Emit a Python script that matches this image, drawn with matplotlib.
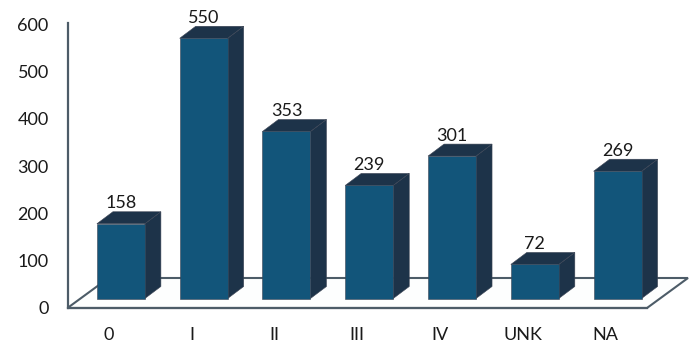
import matplotlib
matplotlib.use('Agg')
import matplotlib.pyplot as plt
from matplotlib.patches import Polygon

# counts per stage
stages = ['0', 'I', 'II', 'III', 'IV', 'UNK', 'NA']
counts = [158, 550, 353, 239, 301, 72, 269]
y_ticks = [0, 100, 200, 300, 400, 500, 600]

# colours
front_col = '#12557a'
dark_col = '#1d3349'
edge_col = '#3d4555'
axis_col = '#4d5c68'

plt.rcParams['font.family'] = ['Lato', 'DejaVu Sans']
plt.rcParams['font.size'] = 13

W, H = 693, 344
fig = plt.figure(figsize=(W / 100, H / 100), dpi=100)

# axes box in pixels, the y scale is 0.473 px per unit and one category is about 82.7 px
left, right, bottom, top = 67.5, 647, 308, 22.7
ax = fig.add_axes([left / W, 1 - bottom / H, (right - left) / W, (bottom - top) / H])
ax.set_xlim(-0.5, 6.5)
ax.set_ylim(0, 603)

# fake 3d offsets in data units
px_x = 7 / (right - left)
px_y = 603 / (bottom - top)
floor_dx, floor_dy = 41 * px_x, 30 * px_y
bar_dx, bar_dy = 12 * px_x, 9.5 * px_y
depth_dx, depth_dy = 16 * px_x, 12 * px_y
bar_w = 48 * px_x

# floor of the chart
xa, xb = -0.5, 6.5
ax.add_patch(Polygon([(xa, 0), (xb, 0), (xb + floor_dx, floor_dy), (xa + floor_dx, floor_dy)],
                     closed=True, facecolor='#fdfefe', edgecolor=axis_col, lw=1.5,
                     clip_on=False, zorder=1, joinstyle='miter'))

for i, v in enumerate(counts):
    x0 = i + bar_dx - bar_w / 2
    x1 = x0 + bar_w
    y0 = bar_dy
    y1 = bar_dy + v
    # side and top faces
    ax.add_patch(Polygon([(x1, y0), (x1 + depth_dx, y0 + depth_dy), (x1 + depth_dx, y1 + depth_dy), (x1, y1)],
                         closed=True, facecolor=dark_col, edgecolor=edge_col, lw=0.4, clip_on=False, zorder=3))
    ax.add_patch(Polygon([(x0, y1), (x1, y1), (x1 + depth_dx, y1 + depth_dy), (x0 + depth_dx, y1 + depth_dy)],
                         closed=True, facecolor=dark_col, edgecolor=edge_col, lw=0.4, clip_on=False, zorder=3))
    ax.bar(i + bar_dx, v, width=bar_w, bottom=y0, color=front_col, edgecolor=edge_col, lw=0.4,
           clip_on=False, zorder=4)
    ax.text(i + bar_dx, y1 + depth_dy + 8.5 * px_y, str(v), ha='center', va='center', color='#1a1a1a', zorder=5)

for name in ['top', 'right']:
    ax.spines[name].set_visible(False)
for name in ['left', 'bottom']:
    ax.spines[name].set_color(axis_col)
    ax.spines[name].set_linewidth(1.6)
    ax.spines[name].set_zorder(2)

ax.set_xticks(range(len(stages)))
ax.set_xticklabels(stages)
ax.set_yticks(y_ticks)
ax.tick_params(axis='both', length=0, labelcolor='#1a1a1a')
ax.tick_params(axis='x', pad=13.5)
ax.tick_params(axis='y', pad=13.5)
ax.patch.set_visible(False)

fig.savefig('out.png', dpi=100, facecolor='white')
